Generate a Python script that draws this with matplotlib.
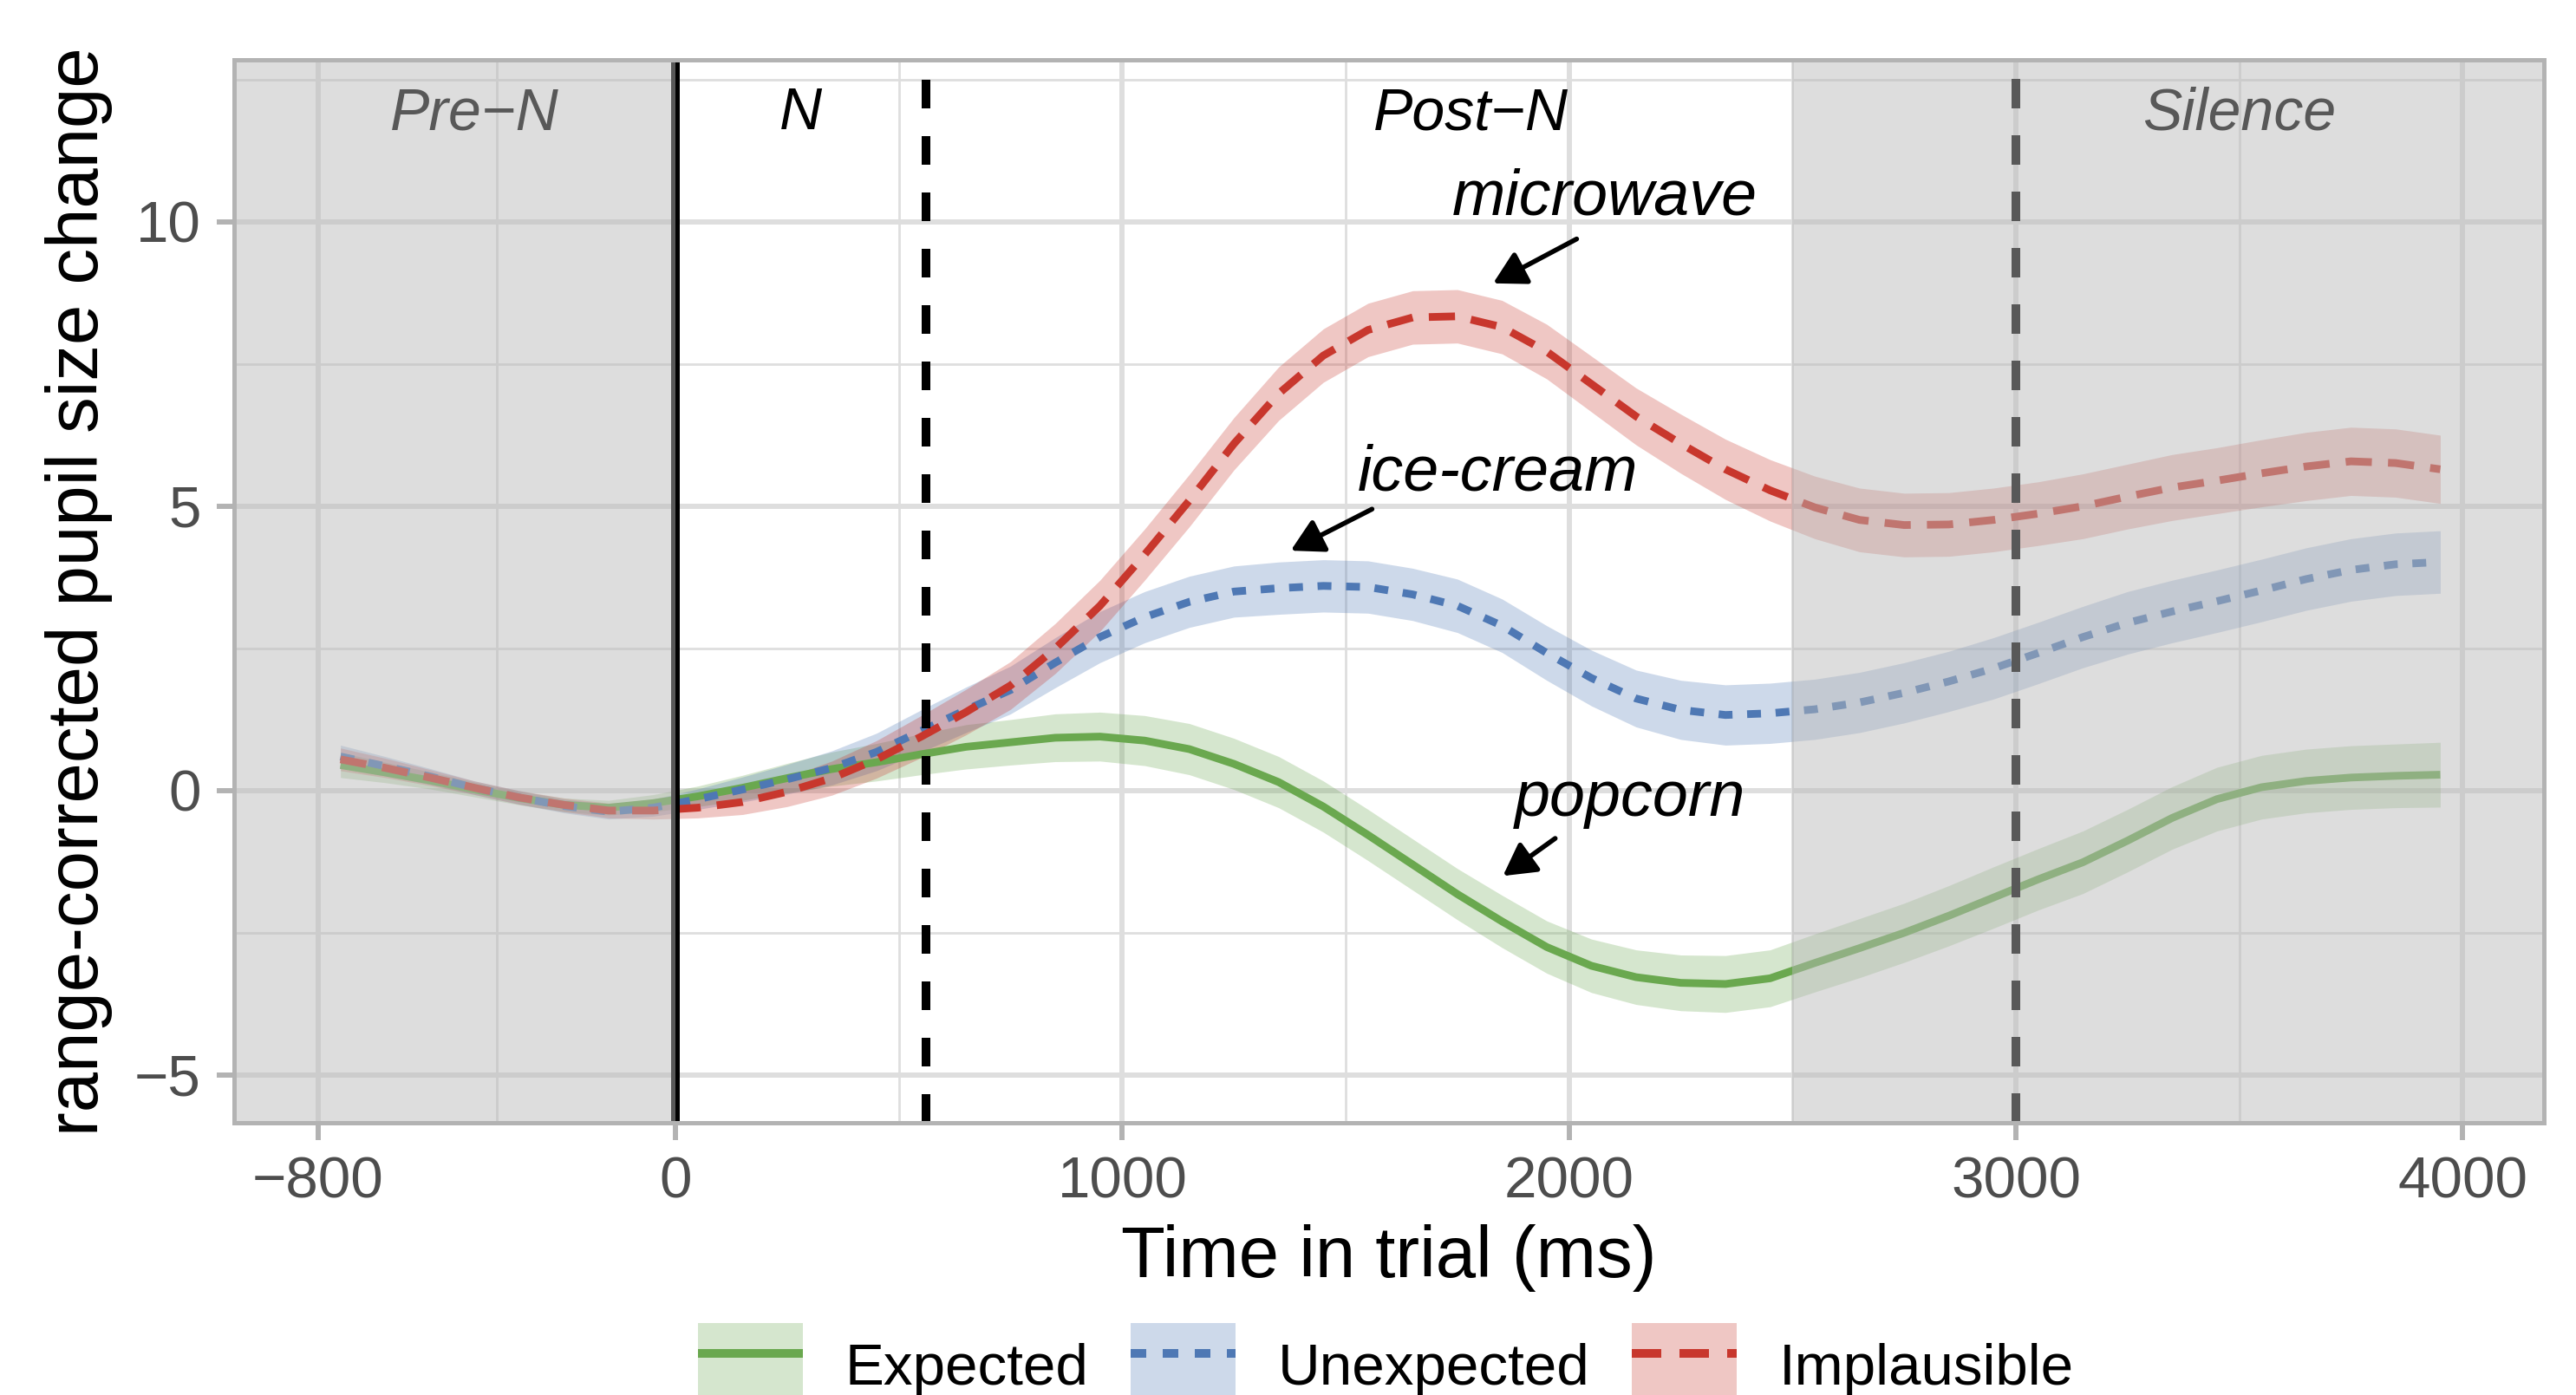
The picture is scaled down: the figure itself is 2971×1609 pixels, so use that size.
import matplotlib
matplotlib.use("Agg")
import matplotlib.pyplot as plt
from matplotlib.patches import Patch
from matplotlib.lines import Line2D
from matplotlib.legend_handler import HandlerTuple, HandlerLine2D

plt.rcParams['font.family'] = ['Liberation Sans', 'DejaVu Sans']

# ---------------- data ----------------
time_ms = [-750, -650, -550, -450, -350, -250, -150, -50, 50, 150, 250, 350, 450,
           550, 650, 750, 850, 950, 1050, 1150, 1250, 1350, 1450, 1550, 1650,
           1750, 1850, 1950, 2050, 2150, 2250, 2350, 2450, 2550, 2650, 2750,
           2850, 2950, 3050, 3150, 3250, 3350, 3450, 3550, 3650, 3750, 3850, 3950]

expected_mean = [0.45, 0.32, 0.18, 0.02, -0.13, -0.25, -0.3, -0.22, -0.1, 0.05, 0.22,
                 0.38, 0.5, 0.64, 0.77, 0.85, 0.93, 0.95, 0.88, 0.73, 0.47, 0.15,
                 -0.28, -0.78, -1.3, -1.82, -2.3, -2.75, -3.08, -3.28, -3.38, -3.4,
                 -3.3, -3.03, -2.77, -2.5, -2.2, -1.88, -1.56, -1.26, -0.88, -0.48,
                 -0.15, 0.06, 0.17, 0.23, 0.26, 0.28]
unexpected_mean = [0.6, 0.43, 0.25, 0.05, -0.12, -0.27, -0.37, -0.3, -0.15, 0.02, 0.2,
                   0.4, 0.68, 1.05, 1.42, 1.77, 2.25, 2.7, 3.05, 3.32, 3.5, 3.56, 3.6,
                   3.58, 3.45, 3.25, 2.9, 2.42, 1.98, 1.62, 1.42, 1.33, 1.36, 1.43,
                   1.55, 1.72, 1.92, 2.15, 2.42, 2.7, 2.95, 3.15, 3.33, 3.52, 3.72,
                   3.88, 3.98, 4.02]
implausible_mean = [0.55, 0.4, 0.23, 0.05, -0.12, -0.25, -0.35, -0.35, -0.3, -0.2,
                    -0.02, 0.22, 0.55, 0.95, 1.38, 1.85, 2.5, 3.25, 4.15, 5.1, 6.1,
                    6.98, 7.65, 8.1, 8.32, 8.34, 8.15, 7.72, 7.15, 6.58, 6.1, 5.65,
                    5.28, 4.98, 4.76, 4.67, 4.68, 4.76, 4.87, 5.0, 5.17, 5.33, 5.45,
                    5.58, 5.7, 5.79, 5.76, 5.65]

expected_ci = [0.22, 0.18, 0.15, 0.13, 0.12, 0.12, 0.13, 0.15, 0.18, 0.22, 0.26, 0.3,
               0.33, 0.36, 0.39, 0.4, 0.42, 0.43, 0.44, 0.45, 0.45, 0.45, 0.45, 0.45,
               0.45, 0.45, 0.46, 0.46, 0.47, 0.48, 0.49, 0.5, 0.5, 0.51, 0.52, 0.52,
               0.53, 0.54, 0.54, 0.55, 0.55, 0.55, 0.56, 0.56, 0.56, 0.56, 0.56, 0.57]
unexpected_ci = [0.2, 0.17, 0.14, 0.12, 0.12, 0.12, 0.13, 0.15, 0.18, 0.22, 0.26, 0.3,
                 0.33, 0.37, 0.4, 0.42, 0.44, 0.45, 0.45, 0.45, 0.45, 0.46, 0.46, 0.46,
                 0.46, 0.47, 0.47, 0.48, 0.49, 0.5, 0.52, 0.53, 0.53, 0.53, 0.53, 0.53,
                 0.53, 0.54, 0.54, 0.54, 0.55, 0.55, 0.55, 0.55, 0.55, 0.55, 0.55, 0.55]
implausible_ci = [0.2, 0.17, 0.14, 0.12, 0.12, 0.12, 0.13, 0.15, 0.18, 0.22, 0.26, 0.3,
                  0.33, 0.37, 0.4, 0.42, 0.44, 0.45, 0.45, 0.46, 0.46, 0.47, 0.47, 0.47,
                  0.47, 0.47, 0.47, 0.48, 0.49, 0.5, 0.52, 0.53, 0.54, 0.55, 0.56, 0.56,
                  0.56, 0.56, 0.56, 0.57, 0.57, 0.58, 0.58, 0.59, 0.6, 0.6, 0.6, 0.6]

conditions = ["Expected", "Unexpected", "Implausible"]
regions = ["Pre\u2212N", "N", "Post\u2212N", "Silence"]
region_x = [-450, 280, 1780, 3500]
x_ticks = [-800, 0, 1000, 2000, 3000, 4000]
y_ticks = [-5, 0, 5, 10]

# ---------------- style ----------------
W, H, DPI = 2971, 1609, 100
fig = plt.figure(figsize=(W / DPI, H / DPI), dpi=DPI)
ax = fig.add_axes([270 / W, 1 - 1295 / H, (2934 - 270) / W, (1295 - 69) / H])

XL = (-988, 4182)
YL = (-5.84, 12.85)
ax.set_xlim(*XL)
ax.set_ylim(*YL)

colors = {"Expected": "#6AA84F", "Unexpected": "#4E78B4", "Implausible": "#C8372D"}
LW = 6.4
styles = {"Expected": dict(linestyle="-"),
          "Unexpected": dict(linestyle=(0, (1.8, 1.9))),
          "Implausible": dict(linestyle=(0, (3.4, 2.1)))}
means = {"Expected": expected_mean, "Unexpected": unexpected_mean, "Implausible": implausible_mean}
cis = {"Expected": expected_ci, "Unexpected": unexpected_ci, "Implausible": implausible_ci}
RIB_ALPHA = 0.28

# grid
grid_col = "#DEDEDE"
ax.set_xticks(x_ticks)
ax.set_yticks(y_ticks)
ax.set_xticks([-400, 500, 1500, 2500, 3500], minor=True)
ax.set_yticks([-2.5, 2.5, 7.5, 12.5], minor=True)
ax.grid(True, which="major", color=grid_col, lw=4.3, zorder=0)
ax.grid(True, which="minor", color=grid_col, lw=2.0, zorder=0)
ax.set_axisbelow(True)

# ribbons
for c in conditions:
    lo = [m - e for m, e in zip(means[c], cis[c])]
    hi = [m + e for m, e in zip(means[c], cis[c])]
    ax.fill_between(time_ms, lo, hi, color=colors[c], alpha=RIB_ALPHA, lw=0, zorder=1)

# lines
for c in conditions:
    ax.plot(time_ms, means[c], color=colors[c], lw=LW, solid_capstyle="butt",
            dash_capstyle="butt", solid_joinstyle="round", zorder=2, **styles[c])

# vertical lines
ax.axvline(0, color="black", lw=7.2, zorder=2.2)
ax.axvline(560, color="black", lw=7.2, linestyle=(0, (3.3, 3.2)), zorder=4)
ax.axvline(3000, color="black", lw=7.2, linestyle=(0, (3.4, 3.1)), zorder=2.2)

# region labels (drawn under the shading)
for lab, xr in zip(regions, region_x):
    ax.text(xr, 11.9, lab, ha="center", va="center", fontsize=49, style="italic",
            color="black", zorder=2.3)

# shading
ax.axvspan(XL[0], 0, color="#B9B9B9", alpha=0.48, lw=0, zorder=3)
ax.axvspan(2500, XL[1], color="#B9B9B9", alpha=0.48, lw=0, zorder=3)

# annotations
ann = [("microwave", (2079, 10.42), (2017, 9.70), (1830, 8.92)),
       ("ice-cream", (1840, 5.58), (1559, 4.95), (1377, 4.22)),
       ("popcorn", (2136, -0.15), (1969, -0.84), (1852, -1.50))]
for lab, tpos, tail, head in ann:
    ax.text(tpos[0], tpos[1], lab, ha="center", va="center", fontsize=53,
            style="italic", color="black", zorder=5)
    ax.annotate("", xy=head, xytext=tail,
                arrowprops=dict(arrowstyle="-|>,head_length=0.45,head_width=0.25",
                                color="black", lw=4.0, shrinkA=0, shrinkB=0,
                                mutation_scale=50), zorder=5)

# spines / ticks
for s in ax.spines.values():
    s.set_color("#B3B3B3")
    s.set_linewidth(3.6)
    s.set_zorder(6)
ax.tick_params(which="major", length=14.4, width=4.3, color="#B3B3B3",
               labelsize=48.5, labelcolor="#4D4D4D", pad=13)
ax.tick_params(which="minor", length=0)

ax.set_xlabel("Time in trial (ms)", fontsize=60, labelpad=12)
ax.set_ylabel("range-corrected pupil size change", fontsize=60, labelpad=18)

# legend
handles = []
for c in conditions:
    p = Patch(facecolor=colors[c], alpha=RIB_ALPHA, edgecolor="none")
    l = Line2D([], [], color=colors[c], lw=7.2, solid_capstyle="butt",
               dash_capstyle="butt", **styles[c])
    handles.append((p, l))
fig.legend(handles, conditions, loc="center left",
           bbox_to_anchor=(805 / W, (H - 1575) / H), ncol=3, frameon=False,
           fontsize=48.5, handlelength=1.8, handleheight=1.85, handletextpad=0.72,
           columnspacing=0.72, borderpad=0, borderaxespad=0,
           handler_map={tuple: HandlerTuple(ndivide=1, pad=0),
                        Line2D: HandlerLine2D(marker_pad=0.08)})

fig.savefig("out.png", dpi=DPI)
